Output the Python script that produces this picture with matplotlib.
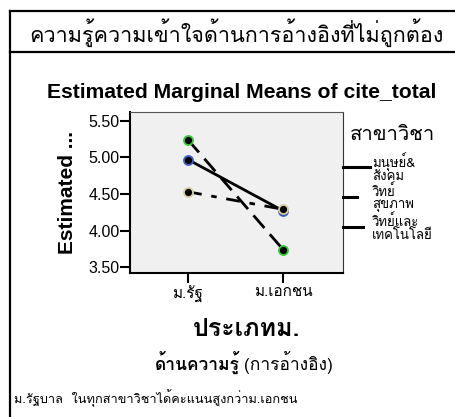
import matplotlib
matplotlib.use('Agg')
import matplotlib.pyplot as plt
from matplotlib import font_manager
from matplotlib.ft2font import FT2Font
from matplotlib.lines import Line2D
import matplotlib.patheffects as pe

# find installed families that have Thai glyphs
def find_thai_families():
  found = {}
  for f in font_manager.fontManager.ttflist:
    try:
      cmap = FT2Font(f.fname).get_charmap()
    except Exception:
      continue
    if 0x0E01 in cmap and 0x0E23 in cmap:
      found.setdefault(f.name, set()).add(f.weight)
  return found

thai_fams = find_thai_families()
prefer = ['Tahoma', 'Loma', 'Garuda', 'Waree', 'Umpush', 'Sawasdee', 'Noto Sans Thai Looped',
          'Kinnari', 'Norasi', 'Tlwg Typo']
THAI = None
for p in prefer:
  if p in thai_fams:
    THAI = p
    break
if THAI is None:
  THAI = sorted(thai_fams)[0] if thai_fams else 'DejaVu Sans'
TH = [THAI, 'Liberation Sans', 'DejaVu Sans']
LAT = ['Liberation Sans', 'DejaVu Sans']
has_bold = any((w if isinstance(w, int) else 400) >= 600 for w in thai_fams.get(THAI, []))
bold_fx = [] if has_bold else [pe.withStroke(linewidth=0.9, foreground='black')]

# data
categories = ['ม.รัฐ', 'ม.เอกชน']
series_names = ['มนุษย์&\nสังคม', 'วิทย์\nสุขภาพ', 'วิทย์และ\nเทคโนโลยี']
series_values = {
  'มนุษย์&\nสังคม': [4.97, 4.27],
  'วิทย์\nสุขภาพ': [4.53, 4.29],
  'วิทย์และ\nเทคโนโลยี': [5.24, 3.74],
}
yticks = [3.50, 4.00, 4.50, 5.00, 5.50]

edge_colors = ['#3a5fcd', '#d6cf9f', '#33cc33']
line_styles = ['-', (0, (5, 3.5, 2, 3.5)), (0, (6, 3))]

W, H = 456, 417
fig = plt.figure(figsize=(W/100, H/100), dpi=100)

def fx(px): return px / W
def fy(py): return 1 - py / H

# frame around the slide
fig.add_artist(Line2D([fx(10), fx(10)], [fy(11), fy(417)], color='black', lw=1.6))
fig.add_artist(Line2D([fx(10), fx(456)], [fy(11), fy(11)], color='black', lw=1.6))
fig.add_artist(Line2D([fx(10), fx(456)], [fy(52), fy(52)], color='black', lw=1.6))

fig.text(fx(236), fy(33), 'ความรู้ความเข้าใจด้านการอ้างอิงที่ไม่ถูกต้อง', family=TH,
         fontsize=15.5, ha='center', va='center')

ax = fig.add_axes([fx(130), fy(273), fx(343-130), (273-112)/H])
ax.set_facecolor('#f0f0f0')

xs = list(range(len(categories)))
for i, name in enumerate(series_names):
  ax.plot(xs, series_values[name], color='black', lw=2, linestyle=line_styles[i],
          marker='o', markersize=6.5, markerfacecolor='black',
          markeredgecolor=edge_colors[i], markeredgewidth=1.3, zorder=3)

ax.set_xlim(-0.61, 1.63)
ax.set_ylim(3.42, 5.62)
ax.set_xticks(xs)
ax.set_xticklabels(categories, family=TH, fontsize=11)
ax.set_yticks(yticks)
ax.set_yticklabels(['%.2f' % v for v in yticks], family=LAT, fontsize=11.5)
ax.tick_params(axis='y', direction='out', length=7, width=1.5, pad=0.5)
ax.tick_params(axis='x', direction='out', length=7, width=1.5, pad=2)
ax.spines['left'].set_linewidth(1.5)
ax.spines['bottom'].set_linewidth(1.5)
ax.spines['top'].set_linewidth(0.8)
ax.spines['right'].set_linewidth(0.8)
ax.spines['top'].set_color('#555555')
ax.spines['right'].set_color('#333333')

fig.text(fx(242), fy(93), 'Estimated Marginal Means of cite_total', family=LAT,
         fontweight='bold', fontsize=15.2, ha='center', va='center')
fig.text(fx(68), fy(193), 'Estimated ...', family=LAT, fontweight='bold', fontsize=15,
         rotation=90, ha='center', va='center')

fig.text(fx(247), fy(330), 'ประเภทม.', family=TH, fontweight='bold', fontsize=18,
         ha='center', va='center', path_effects=bold_fx)

# legend drawn by hand to the right of the plot
fig.text(fx(350), fy(135), 'สาขาวิชา', family=TH, fontsize=14.5, ha='left', va='center')
leg_y = [167, 197, 227]
leg_len = [27, 14, 20]
for i, name in enumerate(series_names):
  fig.add_artist(Line2D([fx(343), fx(343 + leg_len[i])], [fy(leg_y[i]), fy(leg_y[i])],
                        color='black', lw=2.2))
  fig.text(fx(372), fy(leg_y[i] + 1), name, family=TH, fontsize=9.5,
           ha='left', va='center', linespacing=0.95)

r = fig.canvas.get_renderer()
t1 = fig.text(fx(155), fy(362), 'ด้านความรู้', family=TH, fontweight='bold', fontsize=12.5,
              ha='left', va='center', path_effects=bold_fx)
bb = t1.get_window_extent(renderer=r)
fig.text(bb.x1 / W + fx(4), fy(362), '(การอ้างอิง)', family=TH, fontsize=12.5,
         ha='left', va='center')
fig.text(fx(14), fy(398), 'ม.รัฐบาล  ในทุกสาขาวิชาได้คะแนนสูงกว่าม.เอกชน', family=TH,
         fontsize=9.2, ha='left', va='center')

fig.savefig('out.png', dpi=100)
